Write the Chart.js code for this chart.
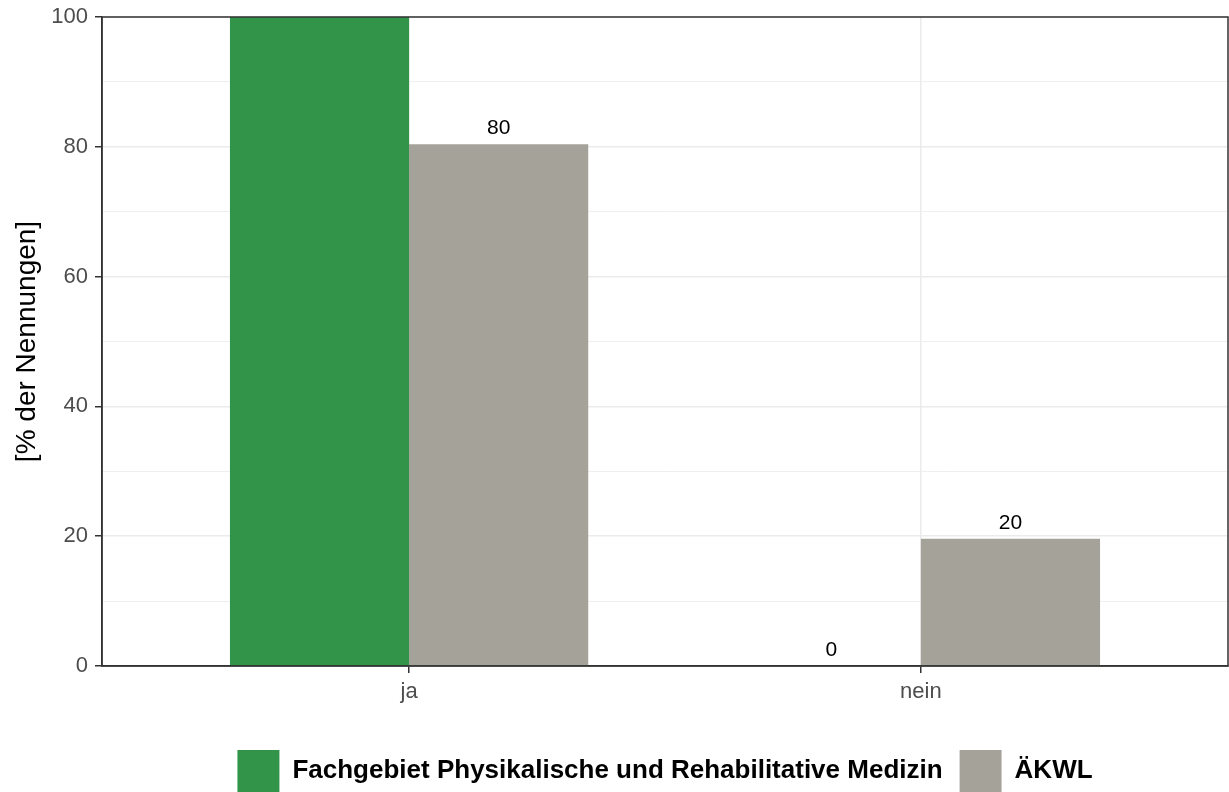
<!DOCTYPE html>
<html>
<head>
<meta charset="utf-8">
<script src="https://cdn.jsdelivr.net/npm/chart.js@4.4.1/dist/chart.umd.min.js"></script>
<style>
  html, body { margin: 0; padding: 0; background: #ffffff; }
  #wrap { width: 1229px; height: 792px; position: relative; }
</style>
</head>
<body>
<div id="wrap"><canvas id="c" width="1229" height="792"></canvas></div>
<script>
// ---- data ----
const categories = ["ja", "nein"];
const seriesNames = ["Fachgebiet Physikalische und Rehabilitative Medizin", "ÄKWL"];
const fachgebiet = [100, 0];
const aekwl = [80.4, 19.6];
const yTicks = [0, 20, 40, 60, 80, 100];
const yTitle = "[% der Nennungen]";

const FONT = "'Liberation Sans', Arial, sans-serif";
const colors = ["#319449", "#A5A29A"];

function toPoints(arr) { return arr.map((v, i) => ({ x: i + 1, y: v })); }

const borderPlugin = {
  id: 'panelBorder',
  afterDraw(chart) {
    const { ctx, chartArea: a } = chart;
    ctx.save();
    ctx.strokeStyle = '#333333';
    ctx.lineWidth = 1.5;
    ctx.strokeRect(a.left, a.top, a.right - a.left, a.bottom - a.top);
    ctx.restore();
  }
};

const labelPlugin = {
  id: 'barLabels',
  afterDatasetsDraw(chart) {
    const { ctx, chartArea: a } = chart;
    ctx.save();
    ctx.beginPath();
    ctx.rect(a.left, a.top, a.right - a.left, a.bottom - a.top);
    ctx.clip();
    ctx.font = "21px " + FONT;
    ctx.fillStyle = '#000000';
    ctx.textAlign = 'center';
    ctx.textBaseline = 'alphabetic';
    chart.data.datasets.forEach((ds, di) => {
      const meta = chart.getDatasetMeta(di);
      meta.data.forEach((bar, i) => {
        const v = ds.data[i].y;
        ctx.fillText(String(Math.round(v)), bar.x, bar.y - 10);
      });
    });
    ctx.restore();
  }
};

new Chart(document.getElementById('c'), {
  type: 'bar',
  data: {
    datasets: [
      { label: seriesNames[0], data: toPoints(fachgebiet), backgroundColor: colors[0], borderWidth: 0 },
      { label: seriesNames[1], data: toPoints(aekwl), backgroundColor: colors[1], borderWidth: 0 }
    ]
  },
  options: {
    responsive: false,
    animation: false,
    events: [],
    categoryPercentage: 0.7,
    barPercentage: 1.0,
    layout: { padding: { top: 17, right: 1, left: 0, bottom: -10 } },
    plugins: {
      tooltip: { enabled: false },
      legend: {
        position: 'bottom',
        fullSize: false,
        labels: {
          boxWidth: 42,
          boxHeight: 42,
          padding: 17,
          color: '#000000',
          font: { family: FONT, size: 26, weight: 'bold' }
        }
      }
    },
    scales: {
      x: {
        type: 'linear',
        offset: false,
        min: 0.4,
        max: 2.6,
        afterBuildTicks(scale) { scale.ticks = categories.map((c, i) => ({ value: i + 1 })); },
        afterFit(scale) { scale.height = 67; scale.paddingLeft = 0; scale.paddingRight = 0; },
        ticks: {
          callback: (v) => categories[Math.round(v) - 1] ?? '',
          color: '#4D4D4D',
          font: { family: FONT, size: 22 },
          padding: 6,
          maxRotation: 0
        },
        grid: {
          offset: false,
          color: '#EBEBEB',
          lineWidth: 1.5,
          drawTicks: true,
          tickLength: 7,
          tickColor: '#333333',
          tickWidth: 1.5
        },
        border: { display: true, color: '#333333', width: 1.5 }
      },
      y: {
        min: 0,
        max: 100,
        afterBuildTicks(scale) {
          const t = [];
          for (let v = 0; v <= 100; v += 10) t.push({ value: v });
          scale.ticks = t;
        },
        afterFit(scale) { scale.width = 102; scale.paddingTop = 0; scale.paddingBottom = 0; },
        ticks: {
          callback: (v) => yTicks.includes(v) ? String(v) : '',
          color: '#4D4D4D',
          font: { family: FONT, size: 22 },
          padding: 7
        },
        grid: {
          color: '#EBEBEB',
          lineWidth: (c) => (c.tick && c.tick.value % 20 === 0) ? 1.5 : 0.8,
          drawTicks: true,
          tickLength: 7,
          tickColor: (c) => (c.tick && c.tick.value % 20 === 0) ? '#333333' : 'rgba(0,0,0,0)',
          tickWidth: 1.5
        },
        border: { display: true, color: '#333333', width: 1.5 },
        title: {
          display: true,
          text: yTitle,
          color: '#000000',
          font: { family: FONT, size: 28 },
          padding: { top: 10, bottom: 0 }
        }
      }
    }
  },
  plugins: [labelPlugin, borderPlugin]
});
</script>
</body>
</html>
